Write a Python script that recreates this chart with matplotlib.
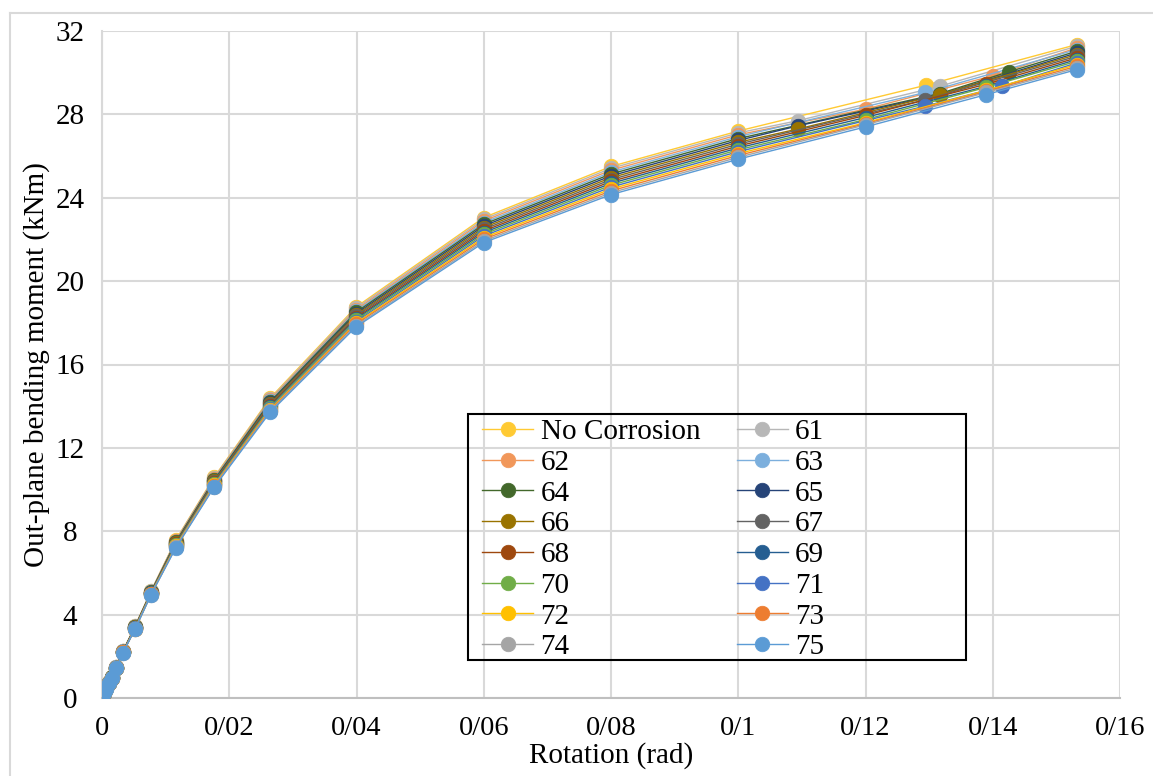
import matplotlib
matplotlib.use("Agg")
import matplotlib.pyplot as plt
from matplotlib.lines import Line2D
from matplotlib.patches import Rectangle

# shared rotation points (rad) up to 0.1
x_base = [0, 0.0003, 0.0007, 0.0011, 0.0016, 0.0022, 0.0033, 0.0052, 0.0077,
          0.0116, 0.0176, 0.0264, 0.0399, 0.06, 0.08, 0.1]

labels = ["No Corrosion", "61", "62", "63", "64", "65", "66", "67",
          "68", "69", "70", "71", "72", "73", "74", "75"]

colors = ["#FFCA33", "#B7B7B7", "#F1975A", "#7CAFDD", "#43682B", "#264478",
          "#997300", "#636363", "#9E480E", "#255E91", "#70AD47", "#4472C4",
          "#FFC000", "#ED7D31", "#A5A5A5", "#5B9BD5"]

# moment values (kNm) at x_base for each series
y_base = {
    "No Corrosion": [0.05, 0.25, 0.50, 0.75, 1.00, 1.48, 2.25, 3.45, 5.12, 7.58, 10.58, 14.38, 18.75, 23.05, 25.50, 27.20],
    "61": [0.05, 0.25, 0.50, 0.75, 1.00, 1.48, 2.25, 3.44, 5.11, 7.55, 10.55, 14.33, 18.69, 22.97, 25.41, 27.11],
    "62": [0.05, 0.25, 0.49, 0.74, 0.99, 1.47, 2.24, 3.43, 5.10, 7.53, 10.52, 14.29, 18.62, 22.89, 25.32, 27.02],
    "63": [0.05, 0.24, 0.49, 0.74, 0.99, 1.47, 2.24, 3.42, 5.09, 7.50, 10.48, 14.24, 18.56, 22.81, 25.23, 26.93],
    "64": [0.05, 0.24, 0.49, 0.74, 0.99, 1.46, 2.23, 3.41, 5.07, 7.48, 10.45, 14.20, 18.50, 22.73, 25.14, 26.84],
    "65": [0.05, 0.24, 0.48, 0.73, 0.98, 1.46, 2.23, 3.40, 5.06, 7.45, 10.42, 14.15, 18.43, 22.65, 25.05, 26.75],
    "66": [0.05, 0.24, 0.48, 0.73, 0.98, 1.46, 2.22, 3.39, 5.05, 7.43, 10.39, 14.11, 18.37, 22.57, 24.96, 26.66],
    "67": [0.05, 0.24, 0.48, 0.73, 0.98, 1.45, 2.22, 3.38, 5.04, 7.40, 10.36, 14.06, 18.31, 22.49, 24.87, 26.57],
    "68": [0.05, 0.23, 0.47, 0.72, 0.97, 1.45, 2.21, 3.37, 5.03, 7.38, 10.32, 14.02, 18.24, 22.41, 24.78, 26.48],
    "69": [0.05, 0.23, 0.47, 0.72, 0.97, 1.45, 2.21, 3.36, 5.02, 7.35, 10.29, 13.97, 18.18, 22.33, 24.69, 26.39],
    "70": [0.05, 0.23, 0.47, 0.72, 0.97, 1.44, 2.20, 3.35, 5.01, 7.33, 10.26, 13.93, 18.12, 22.25, 24.60, 26.30],
    "71": [0.05, 0.23, 0.46, 0.71, 0.96, 1.44, 2.20, 3.34, 5.00, 7.30, 10.23, 13.88, 18.05, 22.17, 24.51, 26.21],
    "72": [0.05, 0.23, 0.46, 0.71, 0.96, 1.43, 2.19, 3.33, 4.99, 7.28, 10.20, 13.84, 17.99, 22.09, 24.42, 26.12],
    "73": [0.05, 0.22, 0.46, 0.71, 0.96, 1.43, 2.19, 3.32, 4.97, 7.25, 10.16, 13.79, 17.93, 22.01, 24.33, 26.03],
    "74": [0.05, 0.22, 0.45, 0.70, 0.95, 1.42, 2.18, 3.31, 4.96, 7.23, 10.13, 13.75, 17.86, 21.93, 24.24, 25.94],
    "75": [0.05, 0.22, 0.45, 0.70, 0.95, 1.42, 2.18, 3.30, 4.95, 7.20, 10.10, 13.70, 17.80, 21.85, 24.15, 25.85],
}

# tail points beyond 0.1 rad (differ per series)
x_tail = {
    "No Corrosion": [0.1295, 0.1532], "61": [0.1094, 0.1317, 0.1532],
    "62": [0.12, 0.14, 0.1532], "63": [0.1294, 0.1532],
    "64": [0.1317, 0.1426, 0.1532], "65": [0.1094, 0.1317, 0.1532],
    "66": [0.1094, 0.1317, 0.1532], "67": [0.1294, 0.1532],
    "68": [0.12, 0.139, 0.1532], "69": [0.12, 0.139, 0.1532],
    "70": [0.12, 0.139, 0.1532], "71": [0.1294, 0.1415, 0.1532],
    "72": [0.12, 0.139, 0.1532], "73": [0.12, 0.139, 0.1532],
    "74": [0.12, 0.139, 0.1532], "75": [0.12, 0.139, 0.1532],
}
y_tail = {
    "No Corrosion": [29.40, 31.35], "61": [27.70, 29.35, 31.27],
    "62": [28.25, 29.85, 31.19], "63": [29.05, 31.11],
    "64": [29.00, 30.05, 31.03], "65": [27.45, 28.95, 30.95],
    "66": [27.30, 28.95, 30.87], "67": [28.70, 30.79],
    "68": [27.95, 29.45, 30.71], "69": [27.85, 29.35, 30.63],
    "70": [27.75, 29.30, 30.55], "71": [28.40, 29.35, 30.47],
    "72": [27.60, 29.15, 30.39], "73": [27.55, 29.10, 30.31],
    "74": [27.50, 29.05, 30.23], "75": [27.40, 28.95, 30.15],
}

x_ticks = [0, 0.02, 0.04, 0.06, 0.08, 0.1, 0.12, 0.14, 0.16]
x_tick_labels = ["0", "0/02", "0/04", "0/06", "0/08", "0/1", "0/12", "0/14", "0/16"]
y_ticks = [0, 4, 8, 12, 16, 20, 24, 28, 32]

plt.rcParams['font.family'] = ['Liberation Serif', 'DejaVu Serif']
FS = 21

fig = plt.figure(figsize=(11.53, 7.76), dpi=100)
ax = fig.add_axes([102 / 1153, 1 - 698 / 776, 1018 / 1153, 667 / 776])

# light chart border like Excel
fig.add_artist(Line2D([10 / 1153, 1.0], [1 - 13 / 776, 1 - 13 / 776],
                      transform=fig.transFigure, color="#D9D9D9", lw=1.5))
fig.add_artist(Line2D([10 / 1153, 10 / 1153], [0, 1 - 13 / 776],
                      transform=fig.transFigure, color="#D9D9D9", lw=1.5))

handles = {}
for name, c in zip(labels, colors):
    xs = x_base + x_tail[name]
    ys = y_base[name] + y_tail[name]
    h, = ax.plot(xs, ys, color=c, lw=1.0, marker='o', markersize=10.5,
                 markerfacecolor=c, markeredgecolor=c, markeredgewidth=0.5,
                 label=name, zorder=3)
    handles[name] = h

ax.set_xlim(0, 0.16)
ax.set_ylim(0, 32)
ax.set_xticks(x_ticks)
ax.set_xticklabels(x_tick_labels)
ax.set_yticks(y_ticks)
for lab in ax.get_yticklabels():
    lab.set_horizontalalignment('center')
ax.tick_params(axis='y', length=0, pad=23, labelsize=FS)
ax.tick_params(axis='x', length=0, pad=13, labelsize=20.5)
ax.grid(True, color="#D9D9D9", lw=1.5, zorder=0)
for s in ['top', 'right']:
    ax.spines[s].set_visible(False)
ax.spines['left'].set_color("#D9D9D9")
ax.spines['left'].set_linewidth(1.5)
ax.spines['bottom'].set_color("#BFBFBF")
ax.spines['bottom'].set_linewidth(1.5)
ax.set_axisbelow(True)

ax.set_xlabel("Rotation (rad)", fontsize=FS, labelpad=1)
ax.set_ylabel("Out-plane bending moment (kNm)", fontsize=FS, labelpad=4)

# legend box (Excel keeps it wider than its content)
ax.add_patch(Rectangle((0.3595, 0.057), 0.489, 0.369, transform=ax.transAxes,
                       facecolor='none', edgecolor='black', lw=1.5, zorder=5))

# legend reads row-wise like Excel: reorder for matplotlib's column fill
order = labels[0::2] + labels[1::2]
leg = ax.legend([handles[n] for n in order], order, ncol=2,
                loc='upper left', bbox_to_anchor=(0.3735, 0.419),
                fontsize=FS, frameon=False, labelspacing=0.15,
                handlelength=1.75, handletextpad=0.25, columnspacing=1.25,
                borderpad=0, borderaxespad=0)

fig.savefig("out.png", dpi=100)
